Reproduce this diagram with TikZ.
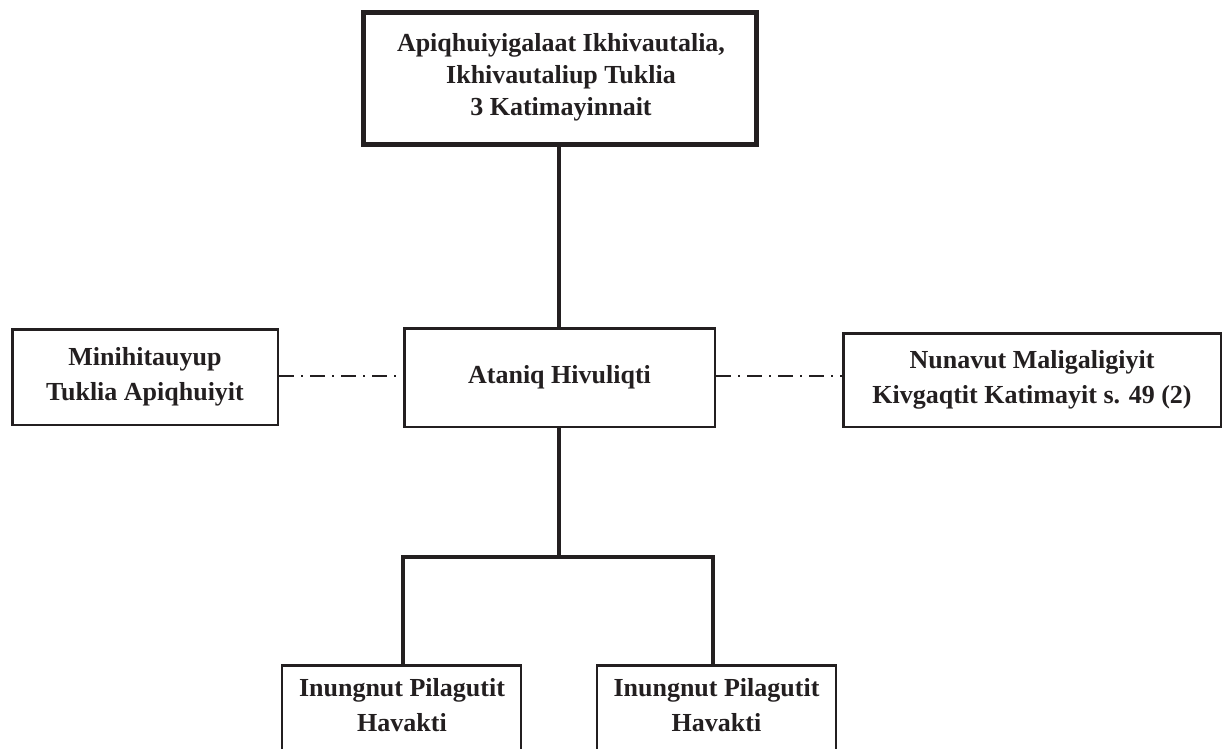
\documentclass[tikz,border=0pt]{standalone}
\usepackage{fontspec}
\setmainfont{Liberation Serif}
\definecolor{ink}{RGB}{35,31,32}
\begin{document}
\begin{tikzpicture}[x=1pt,y=-1pt,
  box/.style={draw=ink, line width=2.5pt, inner sep=0pt, text=ink, align=center,
    font=\bfseries\fontsize{26}{35}\selectfont},
  topframe/.style={draw=ink, line width=5pt, inner sep=0pt},
  label/.style={text=ink, align=center, inner sep=0pt, font=\bfseries\fontsize{26}{35}\selectfont},
  toplabel/.style={text=ink, align=center, inner sep=0pt, font=\bfseries\fontsize{26}{32}\selectfont},
  link/.style={draw=ink, line width=4pt},
  dashlink/.style={draw=ink, line width=2pt, dash pattern=on 15pt off 7pt on 2pt off 7pt}]
\clip (0,0) rectangle (1224,748);
% top box
\node[topframe, minimum width=393pt, minimum height=132pt] (top) at (560,78.5) {};
\node[toplabel] (toptext) at (561,77) {Apiqhuiyigalaat Ikhivautalia,\\Ikhivautaliup Tuklia\\3 Katimayinnait};
% middle row
\node[box, minimum width=265.5pt, minimum height=95.5pt] (lb) at (145,377) {Minihitauyup\\Tuklia Apiqhuiyit};
\node[box, minimum width=310.5pt, minimum height=98.5pt] (mid) at (559.5,377.5) {Ataniq Hivuliqti};
\node[box, minimum width=377.5pt, minimum height=93.5pt] (rb) at (1032,380) {Nunavut Maligaligiyit\\Kivgaqtit Katimayit s. 49 (2)};
% bottom boxes (cut off by the page edge)
\node[box, minimum width=239pt, minimum height=110pt] (bl) at (401.5,720.25) {};
\node[label] (bltext) at (402,705) {Inungnut Pilagutit\\Havakti};
\node[box, minimum width=239pt, minimum height=110pt] (bR) at (716.5,720.25) {};
\node[label] (bRtext) at (716.5,705) {Inungnut Pilagutit\\Havakti};
% connectors
\coordinate (br) at (559,557);
\coordinate (jl) at (403,557);
\coordinate (jr) at (713,557);
\coordinate (dy) at (0,376);
\draw[link] (top.south -| br) -- (mid.north -| br);
\draw[link] (mid.south -| br) -- (br);
\draw[link, line join=miter] (jl |- bl.north) -- (jl) -- (jr) -- (jr |- bR.north);
\draw[dashlink] (lb.east |- dy) -- (mid.west |- dy);
\draw[dashlink] (mid.east |- dy) -- (rb.west |- dy);
\end{tikzpicture}
\end{document}
